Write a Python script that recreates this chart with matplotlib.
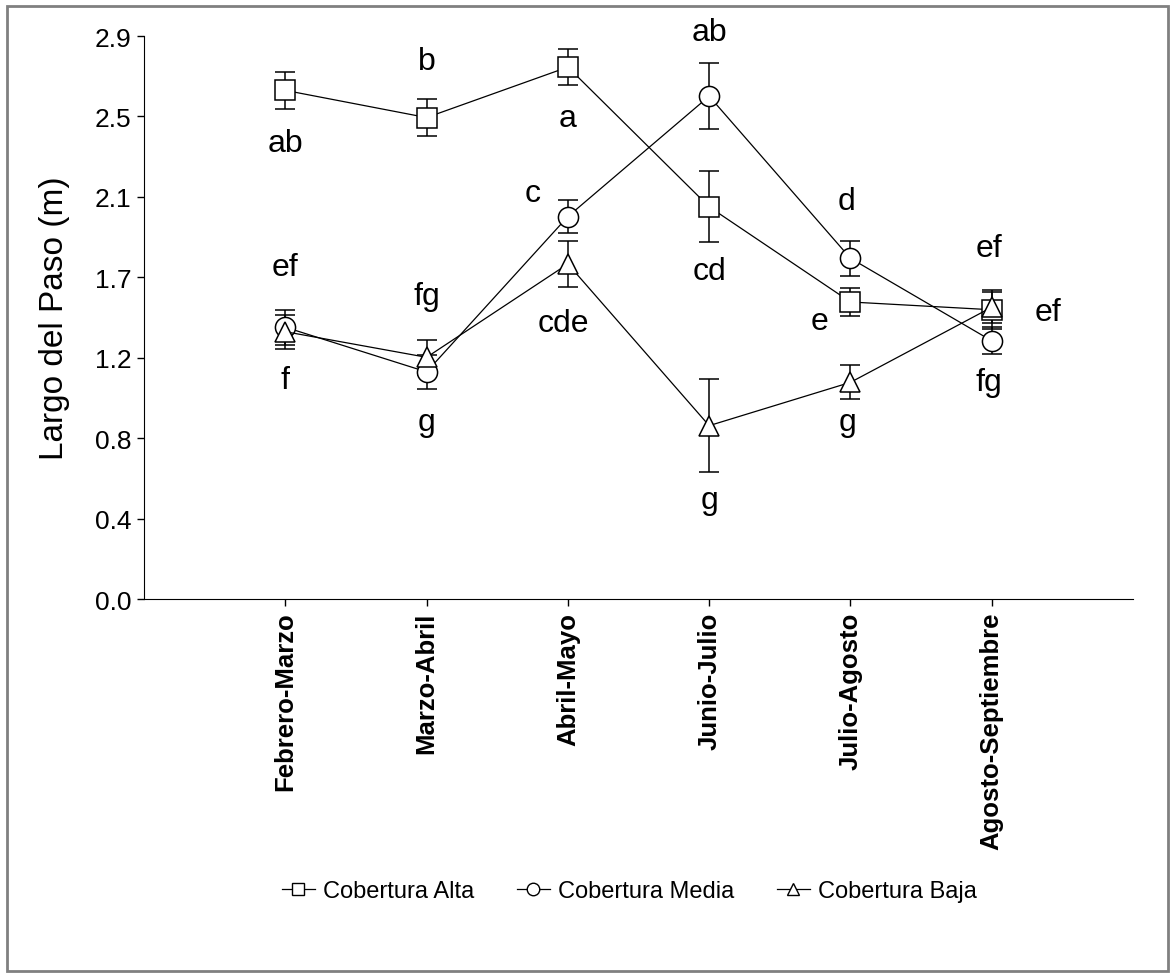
import numpy as np
import matplotlib
matplotlib.use("Agg")
import matplotlib.pyplot as plt
from matplotlib.lines import Line2D
from matplotlib.patches import Rectangle

plt.rcParams['font.family'] = ['Liberation Sans', 'DejaVu Sans']

# periods on the x axis
periods = ["Febrero-Marzo", "Marzo-Abril", "Abril-Mayo",
           "Junio-Julio", "Julio-Agosto", "Agosto-Septiembre"]

# step length (m) and error per cover class
alta = [2.62, 2.48, 2.74, 2.02, 1.53, 1.49]
alta_err = [0.094, 0.094, 0.092, 0.183, 0.071, 0.10]
media = [1.40, 1.17, 1.97, 2.59, 1.755, 1.33]
media_err = [0.089, 0.086, 0.086, 0.171, 0.089, 0.07]
baja = [1.377, 1.245, 1.726, 0.893, 1.116, 1.503]
baja_err = [0.087, 0.09, 0.12, 0.24, 0.088, 0.08]

# significance letters: text, x (category position), y (m)
letters = ["ab", "ef", "f",
           "b", "fg", "g",
           "a", "c", "cde",
           "ab", "cd", "g",
           "d", "e", "g",
           "ef", "ef", "fg"]
letters_x = [1, 1, 1,
             2, 2, 2,
             3, 2.75, 2.97,
             4, 4, 4,
             4.97, 4.78, 4.98,
             5.98, 6.4, 5.98]
letters_y = [2.35, 1.71, 1.13,
             2.77, 1.56, 0.91,
             2.48, 2.09, 1.42,
             2.92, 1.69, 0.51,
             2.05, 1.43, 0.91,
             1.81, 1.48, 1.12]

fig = plt.figure(figsize=(11.7, 9.79), dpi=100)
ax = fig.add_axes([0.1231, 0.3871, 0.8453, 0.5751])

x = np.arange(1, len(periods) + 1)
style = dict(color='black', ecolor='black', mfc='white', mec='black',
             mew=1.1, lw=0.9, elinewidth=1.1, capsize=7, capthick=1.1)
ax.errorbar(x, alta, yerr=alta_err, marker='s', ms=14, **style)
ax.errorbar(x, media, yerr=media_err, marker='o', ms=14.5, **style)
ax.errorbar(x, baja, yerr=baja_err, marker='^', ms=14.5, **style)

for t, lx, ly in zip(letters, letters_x, letters_y):
    ax.text(lx, ly, t, fontsize=23, ha='center', va='center')

ax.set_xlim(0, 7)
ax.set_ylim(0, 2.9)
yt = np.linspace(0, 2.9, 8)
ax.set_yticks(yt)
ax.set_yticklabels(['%.1f' % v for v in yt], fontsize=19)
ax.set_xticks(x)
ax.set_xticklabels(periods, rotation=90, fontsize=18.5, fontweight='bold',
                   va='top', ha='center')
ax.tick_params(axis='both', direction='out', length=5, width=1, pad=4)
ax.spines['top'].set_visible(False)
ax.spines['right'].set_visible(False)
ax.set_ylabel("Largo del Paso (m)", fontsize=24, labelpad=18)

handles = [
    Line2D([], [], color='black', lw=0.9, marker='s', ms=9, mfc='white', mec='black'),
    Line2D([], [], color='black', lw=0.9, marker='o', ms=9, mfc='white', mec='black'),
    Line2D([], [], color='black', lw=0.9, marker='^', ms=9, mfc='white', mec='black'),
]
fig.legend(handles, ["Cobertura Alta", "Cobertura Media", "Cobertura Baja"],
           loc='center', bbox_to_anchor=(0.538, 0.089), ncol=3, frameon=False,
           fontsize=17, handlelength=1.4, handletextpad=0.35, columnspacing=1.8)

fig.patches.append(Rectangle((0.006, 0.007), 0.992, 0.986, transform=fig.transFigure,
                             fill=False, edgecolor='#808080', lw=2))

fig.savefig("out.png", dpi=100)
